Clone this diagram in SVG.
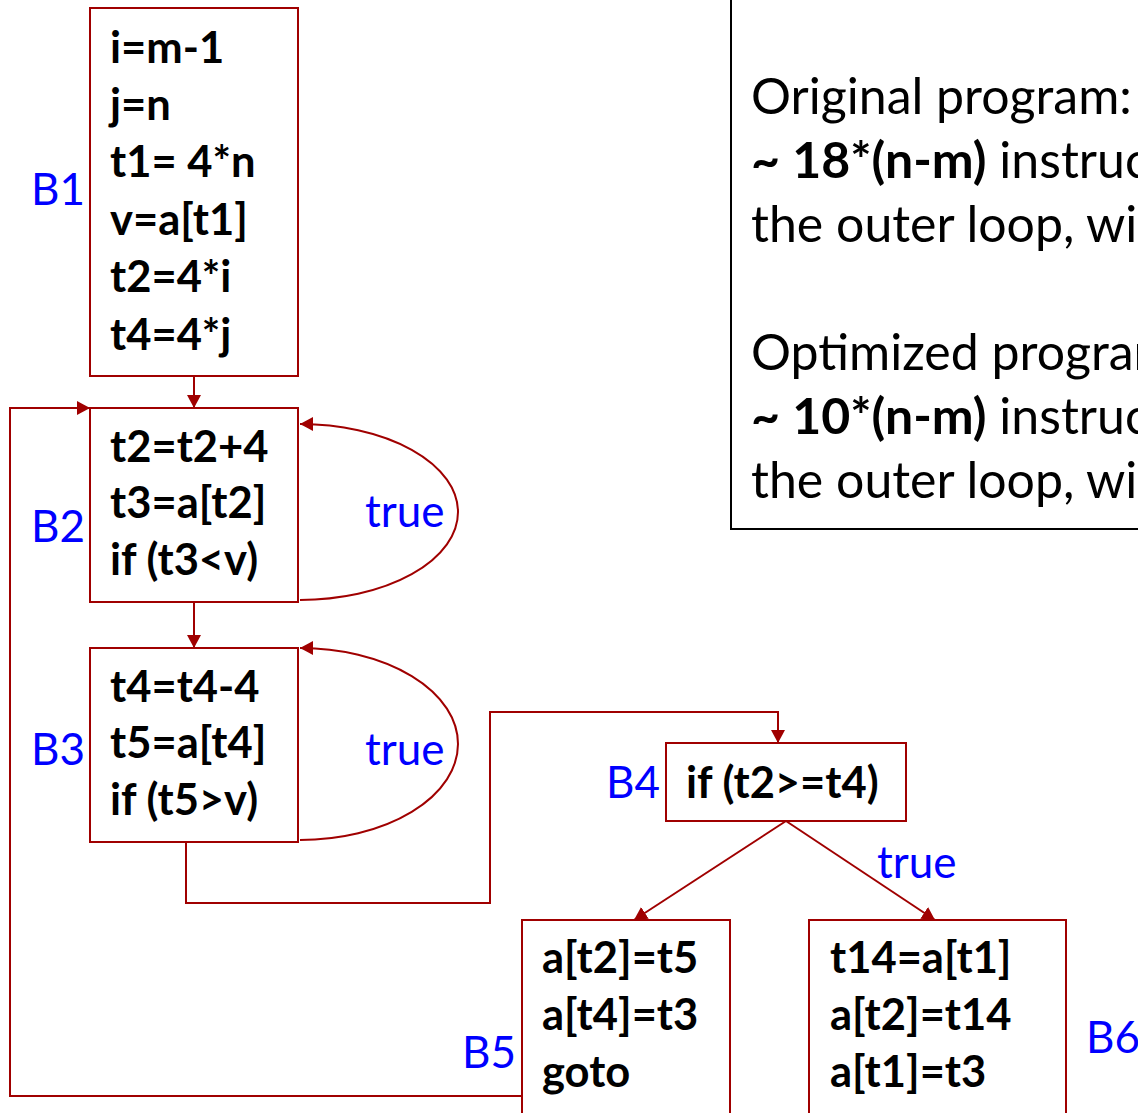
<svg xmlns="http://www.w3.org/2000/svg" width="1138" height="1113" viewBox="0 0 1138 1113">
  <defs>
    <marker id="ah" viewBox="0 0 13 14" refX="13" refY="7" markerWidth="13" markerHeight="14" markerUnits="userSpaceOnUse" orient="auto">
      <path d="M0,0 L13,7 L0,14 z" fill="#A00000"/>
    </marker>
    <clipPath id="panelClip">
      <rect x="0" y="0" width="1138" height="1113"/>
    </clipPath>
    <style>
      .box { fill: #ffffff; stroke: #A00000; stroke-width: 2; }
      .code { font-family: Lato, "Open Sans", sans-serif; font-weight: bold; font-size: 43.5px; fill: #000000; }
      .lbl { font-family: Lato, "Open Sans", sans-serif; font-size: 44px; fill: #0000FF; }
      .edge { fill: none; stroke: #A00000; stroke-width: 2; marker-end: url(#ah); }
      .note { font-family: Lato, "Open Sans", sans-serif; font-size: 50px; fill: #000000; }
    </style>
  </defs>
  <rect width="1138" height="1113" fill="#ffffff"/>

  <!-- summary panel, runs past the right edge -->
  <g id="summary" clip-path="url(#panelClip)">
    <rect x="731" y="-10" width="430" height="539" fill="none" stroke="#000000" stroke-width="2"/>
    <text class="note" x="751" y="114">Original program:</text>
    <text class="note" x="751" y="178"><tspan font-weight="bold">~ 18*(n-m)</tspan> instructions</text>
    <text class="note" x="751" y="242">the outer loop, with</text>
    <text class="note" x="751" y="370">Optimized program:</text>
    <text class="note" x="751" y="434"><tspan font-weight="bold">~ 10*(n-m)</tspan> instructions</text>
    <text class="note" x="751" y="498">the outer loop, with</text>
  </g>

  <!-- control-flow edges -->
  <g id="edges">
    <path class="edge" d="M194,376 L194,408"/>
    <path class="edge" d="M194,602 L194,648"/>
    <path class="edge" d="M300,600 A158,88 0 0 0 300,424"/>
    <path class="edge" d="M300,840 A158,96 0 0 0 300,648"/>
    <path class="edge" d="M186,842 L186,903 L490,903 L490,712 L778,712 L778,743"/>
    <path class="edge" d="M786,821 L634,920"/>
    <path class="edge" d="M786,821 L935,920"/>
    <path class="edge" d="M522,1096 L10,1096 L10,408 L90,408"/>
    <text class="lbl" x="365" y="527">true</text>
    <text class="lbl" x="365" y="765">true</text>
    <text class="lbl" x="877" y="878">true</text>
  </g>

  <g id="B1">
    <rect class="box" x="90" y="8" width="208" height="368"/>
    <text class="lbl" x="31" y="205">B1</text>
    <text class="code" x="110" y="63">i=m-1</text>
    <text class="code" x="110" y="120">j=n</text>
    <text class="code" x="110" y="177">t1= 4*n</text>
    <text class="code" x="110" y="235">v=a[t1]</text>
    <text class="code" x="110" y="292">t2=4*i</text>
    <text class="code" x="110" y="350">t4=4*j</text>
  </g>

  <g id="B2">
    <rect class="box" x="90" y="408" width="208" height="194"/>
    <text class="lbl" x="31" y="542">B2</text>
    <text class="code" x="110" y="462">t2=t2+4</text>
    <text class="code" x="110" y="518">t3=a[t2]</text>
    <text class="code" x="110" y="575">if (t3&lt;v)</text>
  </g>

  <g id="B3">
    <rect class="box" x="90" y="648" width="208" height="194"/>
    <text class="lbl" x="31" y="765">B3</text>
    <text class="code" x="110" y="702">t4=t4-4</text>
    <text class="code" x="110" y="758">t5=a[t4]</text>
    <text class="code" x="110" y="815">if (t5&gt;v)</text>
  </g>

  <g id="B4">
    <rect class="box" x="666" y="743" width="240" height="78"/>
    <text class="lbl" x="606" y="798">B4</text>
    <text class="code" x="686" y="798">if (t2&gt;=t4)</text>
  </g>

  <g id="B5">
    <rect class="box" x="522" y="920" width="208" height="210"/>
    <text class="lbl" x="462" y="1068">B5</text>
    <text class="code" x="542" y="973">a[t2]=t5</text>
    <text class="code" x="542" y="1030">a[t4]=t3</text>
    <text class="code" x="542" y="1087">goto</text>
  </g>

  <g id="B6">
    <rect class="box" x="809" y="920" width="257" height="210"/>
    <text class="lbl" x="1086" y="1053">B6</text>
    <text class="code" x="830" y="973">t14=a[t1]</text>
    <text class="code" x="830" y="1030">a[t2]=t14</text>
    <text class="code" x="830" y="1087">a[t1]=t3</text>
  </g>
</svg>
